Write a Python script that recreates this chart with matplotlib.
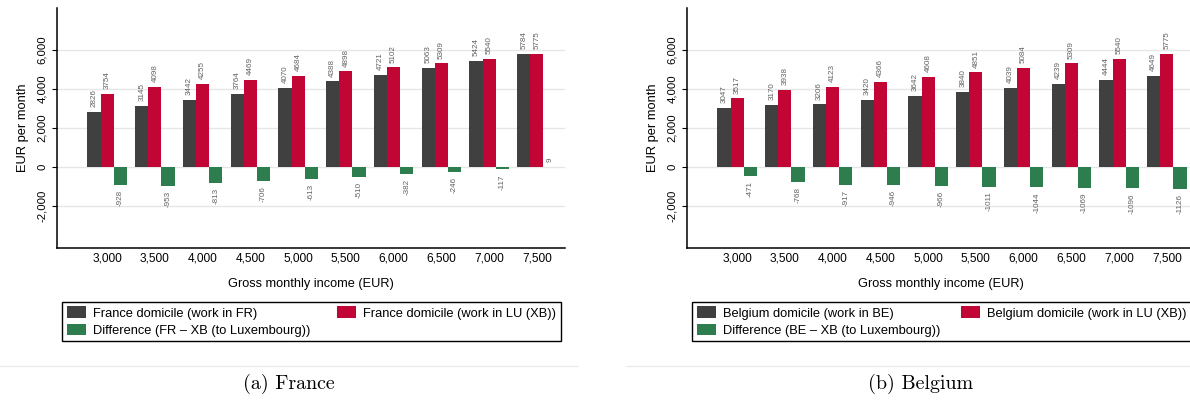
import numpy as np
import matplotlib
matplotlib.use("Agg")
import matplotlib.pyplot as plt
from matplotlib.lines import Line2D
from matplotlib.ticker import FuncFormatter

# gross monthly income brackets
incomes = [3000, 3500, 4000, 4500, 5000, 5500, 6000, 6500, 7000, 7500]

# net monthly income, France domicile
fr_home = [2826, 3145, 3442, 3764, 4070, 4388, 4721, 5063, 5424, 5784]
fr_lux = [3754, 4098, 4255, 4469, 4684, 4898, 5102, 5309, 5540, 5775]
fr_diff = [-928, -953, -813, -706, -613, -510, -382, -246, -117, 9]

# net monthly income, Belgium domicile
be_home = [3047, 3170, 3206, 3420, 3642, 3840, 4039, 4239, 4444, 4649]
be_lux = [3517, 3938, 4123, 4366, 4608, 4851, 5084, 5309, 5540, 5775]
be_diff = [-471, -768, -917, -946, -966, -1011, -1044, -1069, -1096, -1126]

yticks = [-2000, 0, 2000, 4000, 6000]

W, H = 1190, 405
c_home = '#404040'
c_lux = '#c10534'
c_diff = '#2e7d4f'

plt.rcParams['font.family'] = ['Liberation Sans', 'DejaVu Sans']

fig = plt.figure(figsize=(W / 100, H / 100), dpi=100)


def px_axes(x0, x1, y0, y1):
    return fig.add_axes([x0 / W, 1 - y1 / H, (x1 - x0) / W, (y1 - y0) / H])


def draw_panel(ax, home, lux, diff, labels, leg_x):
    x = np.arange(len(incomes))
    w = 0.275
    b1 = ax.bar(x - w, home, w, color=c_home, label=labels[0], zorder=2)
    b2 = ax.bar(x, lux, w, color=c_lux, label=labels[1], zorder=2)
    b3 = ax.bar(x + w, diff, w, color=c_diff, label=labels[2], zorder=2)
    for b in (b1, b2, b3):
        ax.bar_label(b, labels=[str(v) for v in b.datavalues], rotation=90,
                     padding=3.5, fontsize=5.8, color='#606060')

    ax.set_xlim(-1.05, len(incomes) - 1 + 0.59)
    ax.set_ylim(-4150, 8150)
    ax.set_yticks(yticks)
    ax.yaxis.set_major_formatter(FuncFormatter(lambda v, p: f'{v:,.0f}'))
    ax.set_xticks(x)
    ax.set_xticklabels([f'{v:,}' for v in incomes])
    ax.tick_params(axis='x', length=0, pad=3.0, labelsize=8.6)
    ax.tick_params(axis='y', length=3.6, width=0.8, pad=3.5, labelsize=8.2,
                   labelrotation=90)
    for lab in ax.get_yticklabels():
        lab.set_va('center')
    ax.grid(axis='y', color='#e6e6e6', lw=1, zorder=0)
    for s in ('top', 'right'):
        ax.spines[s].set_visible(False)
    for s in ('left', 'bottom'):
        ax.spines[s].set_linewidth(1.1)
    ax.set_ylabel('EUR per month', fontsize=9.3, labelpad=6)
    ax.set_xlabel('Gross monthly income (EUR)', fontsize=9.2, labelpad=10)

    leg = ax.legend([b1, b3, b2], [labels[0], labels[2], labels[1]], ncol=2,
                    loc='upper left', mode='expand',
                    bbox_to_anchor=(leg_x / W, 1 - 306 / H, 499 / W, 0.01),
                    bbox_transform=fig.transFigure, borderaxespad=0,
                    fontsize=9.3, frameon=True, fancybox=False, framealpha=1,
                    edgecolor='black', handlelength=1.5, handleheight=1.0,
                    handletextpad=0.55, borderpad=0.35, labelspacing=0.3)
    leg.get_frame().set_linewidth(1)


ax1 = px_axes(57, 565, 8, 248)
draw_panel(ax1, fr_home, fr_lux, fr_diff,
           ['France domicile (work in FR)', 'France domicile (work in LU (XB))',
            'Difference (FR \u2013 XB (to Luxembourg))'], 62)

ax2 = px_axes(687, 1195, 8, 248)
draw_panel(ax2, be_home, be_lux, be_diff,
           ['Belgium domicile (work in BE)', 'Belgium domicile (work in LU (XB))',
            'Difference (BE \u2013 XB (to Luxembourg))'], 692)

# thin rules under each subfigure and the captions
for x0, x1 in ((0, 578), (626, 1190)):
    fig.add_artist(Line2D([x0 / W, x1 / W], [1 - 366 / H] * 2,
                          color='#ebebeb', lw=1))
fig.text(289 / W, 1 - 384 / H, '(a) France', ha='center', va='center',
         family='cmr10', size=14.4)
fig.text(921 / W, 1 - 384 / H, '(b) Belgium', ha='center', va='center',
         family='cmr10', size=14.4)

fig.savefig('out.png', dpi=100)
